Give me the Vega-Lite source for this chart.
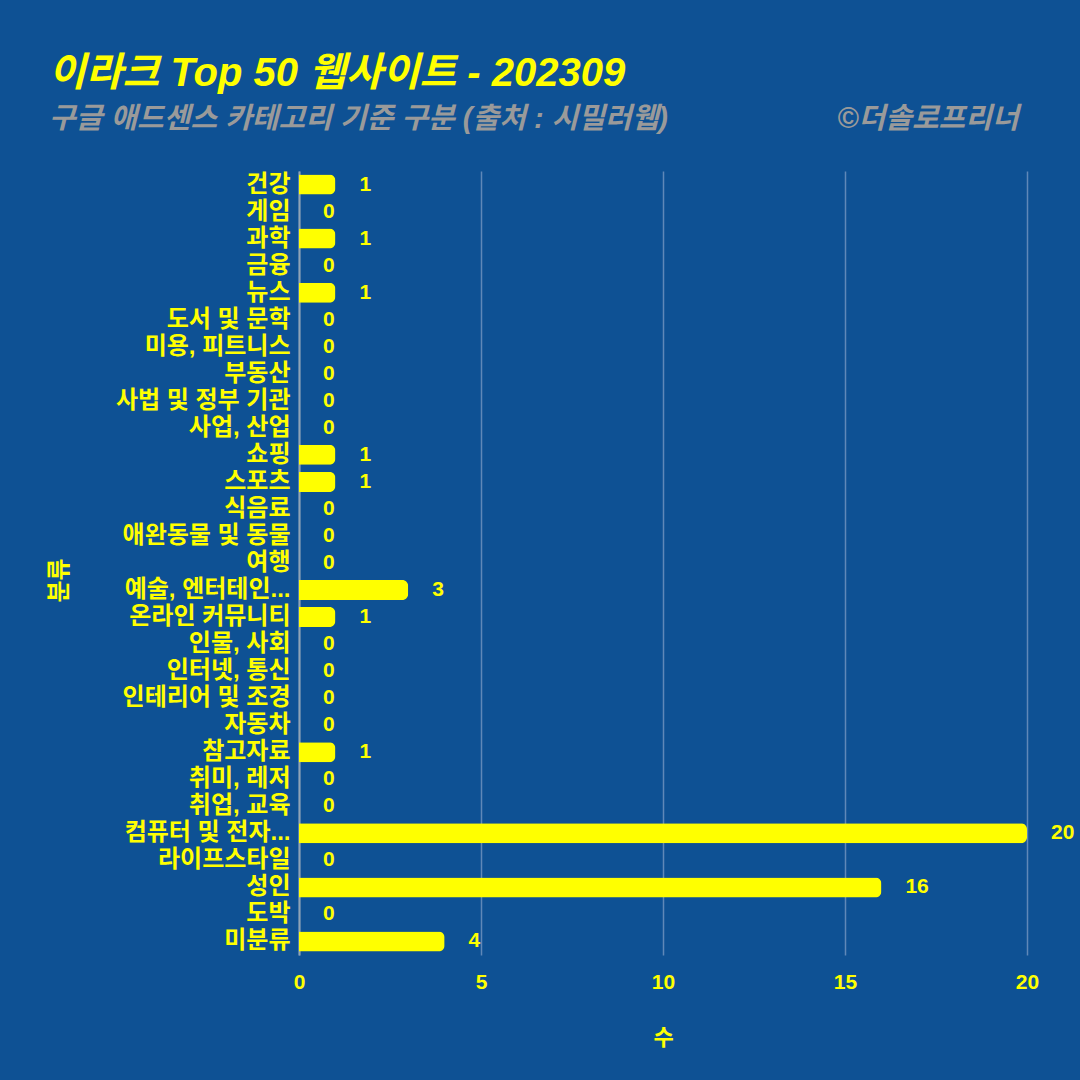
{
  "$schema": "https://vega.github.io/schema/vega-lite/v6.json",
  "autosize": {"type": "none"},
  "padding": {"left": 299, "top": 171, "right": 53, "bottom": 125},
  "width": 728,
  "height": 784,
  "background": "#0e5194",
  "title": {
    "text": "이라크 Top 50 웹사이트 - 202309",
    "subtitle": "구글 애드센스 카테고리 기준 구분 (출처 : 시밀러웹)\u00a0\u00a0\u00a0\u00a0\u00a0\u00a0\u00a0\u00a0\u00a0\u00a0\u00a0\u00a0\u00a0\u00a0\u00a0\u00a0\u00a0\u00a0\u00a0\u00a0\u00a0©더솔로프리너",
    "anchor": "start",
    "frame": "group",
    "dx": -250,
    "offset": 37,
    "font": "Liberation Sans, Noto Sans CJK KR",
    "fontSize": 40,
    "fontWeight": "bold",
    "fontStyle": "italic",
    "color": "#ffff00",
    "subtitleFont": "Liberation Sans, Noto Sans CJK KR",
    "subtitleFontSize": 29,
    "subtitleFontWeight": "bold",
    "subtitleFontStyle": "italic",
    "subtitleColor": "#9a9a9a",
    "subtitlePadding": 11
  },
  "config": {
    "view": {"stroke": null},
    "font": "Liberation Sans, Noto Sans CJK KR"
  },
  "data": {
    "values": [
      {"category": "건강", "count": 1},
      {"category": "게임", "count": 0},
      {"category": "과학", "count": 1},
      {"category": "금융", "count": 0},
      {"category": "뉴스", "count": 1},
      {"category": "도서 및 문학", "count": 0},
      {"category": "미용, 피트니스", "count": 0},
      {"category": "부동산", "count": 0},
      {"category": "사법 및 정부 기관", "count": 0},
      {"category": "사업, 산업", "count": 0},
      {"category": "쇼핑", "count": 1},
      {"category": "스포츠", "count": 1},
      {"category": "식음료", "count": 0},
      {"category": "애완동물 및 동물", "count": 0},
      {"category": "여행", "count": 0},
      {"category": "예술, 엔터테인...", "count": 3},
      {"category": "온라인 커뮤니티", "count": 1},
      {"category": "인물, 사회", "count": 0},
      {"category": "인터넷, 통신", "count": 0},
      {"category": "인테리어 및 조경", "count": 0},
      {"category": "자동차", "count": 0},
      {"category": "참고자료", "count": 1},
      {"category": "취미, 레저", "count": 0},
      {"category": "취업, 교육", "count": 0},
      {"category": "컴퓨터 및 전자...", "count": 20},
      {"category": "라이프스타일", "count": 0},
      {"category": "성인", "count": 16},
      {"category": "도박", "count": 0},
      {"category": "미분류", "count": 4}
    ]
  },
  "encoding": {
    "y": {
      "field": "category",
      "type": "nominal",
      "sort": null,
      "scale": {"paddingInner": 0.26, "paddingOuter": 0.13},
      "axis": {
        "title": "분류",
        "titleColor": "#ffff00",
        "titleFontSize": 24,
        "titleFontWeight": "bold",
        "titlePadding": 44,
        "titleY": 409,
        "labelColor": "#ffff00",
        "labelFontSize": 24,
        "labelFontWeight": "bold",
        "labelPadding": 9,
        "labelLimit": 300,
        "ticks": false,
        "domain": true,
        "domainColor": "#8fa3b5",
        "domainWidth": 2,
        "grid": false
      }
    },
    "x": {
      "field": "count",
      "type": "quantitative",
      "scale": {"domain": [0, 20], "nice": false},
      "axis": {
        "title": "수",
        "titleColor": "#ffff00",
        "titleFontSize": 22,
        "titleFontWeight": "bold",
        "titlePadding": 35,
        "labelColor": "#ffff00",
        "labelFontSize": 21,
        "labelFontWeight": "bold",
        "labelPadding": 16,
        "labelFlush": false,
        "values": [0, 5, 10, 15, 20],
        "ticks": false,
        "domain": false,
        "grid": true,
        "gridColor": "#5f88b8",
        "gridWidth": 1.5
      }
    }
  },
  "layer": [
    {
      "mark": {"type": "bar", "color": "#ffff00", "cornerRadiusEnd": 6}
    },
    {
      "mark": {"type": "text", "align": "left", "baseline": "middle", "dx": 24, "color": "#ffff00", "fontSize": 21, "fontWeight": "bold"},
      "encoding": {"text": {"field": "count", "type": "quantitative"}}
    }
  ]
}
